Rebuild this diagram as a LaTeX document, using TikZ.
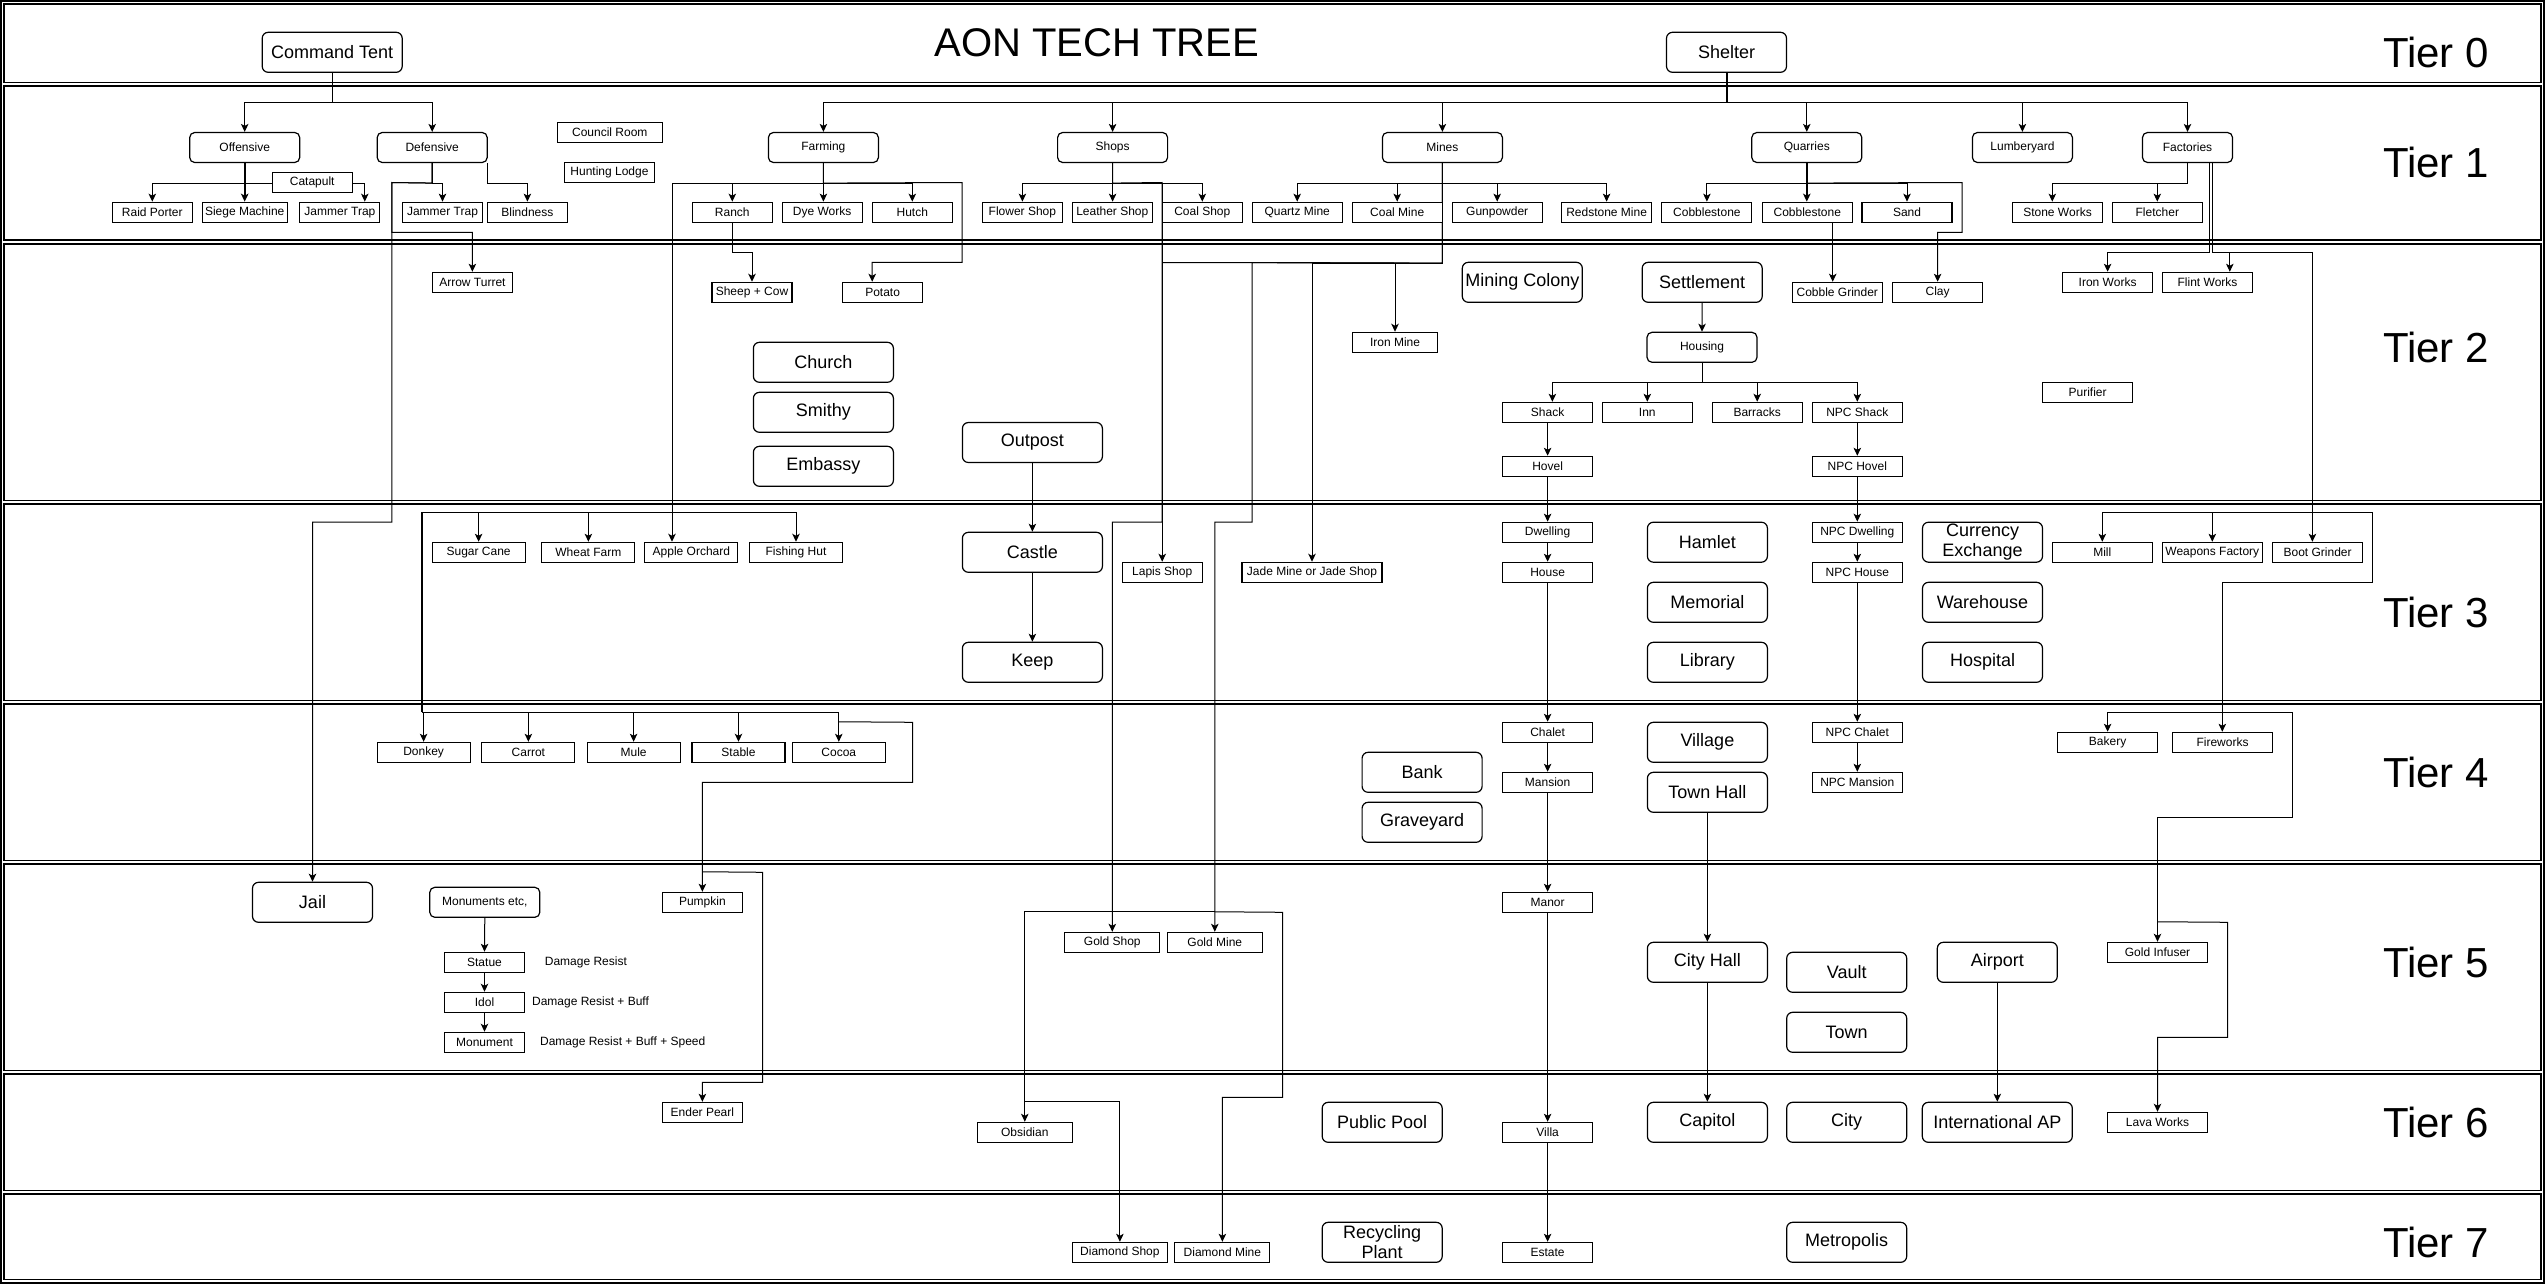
\documentclass[tikz,border=0pt]{standalone}
\usepackage{fontspec}
\setmainfont{Liberation Sans}
\usetikzlibrary{arrows.meta,calc}
\pgfdeclarelayer{edgelayer}
\pgfsetlayers{edgelayer,main}
\tikzset{
 big/.style={draw, line width=1.2pt, rounded corners=6pt, fill=white, minimum width=120pt, minimum height=40pt, inner sep=0pt, font=\fontsize{18}{20}\selectfont, align=center},
 mid/.style={draw, line width=1.2pt, rounded corners=5pt, fill=white, minimum height=30pt, inner sep=0pt, font=\fontsize{12}{14}\selectfont},
 sm/.style={draw, line width=1.1pt, fill=white, minimum height=20pt, inner sep=0pt, font=\fontsize{12}{14}\selectfont},
 note/.style={inner sep=0pt, font=\fontsize{12}{14}\selectfont},
 tierlbl/.style={inner sep=0pt, font=\fontsize{42}{46}\selectfont},
 arr/.style={line width=1pt, -{Stealth[length=8pt,width=7.5pt,inset=2pt]}},
 ln/.style={line width=1pt},
 lane/.style={line width=1.5pt},
}
\begin{document}
\begin{tikzpicture}[x=1pt,y=-1pt]
\useasboundingbox (0,0) rectangle (2546,1285);
\begin{pgfonlayer}{edgelayer}
\draw[lane] (1,1) rectangle (2544,1283);
\foreach \a/\b in {4/82.3, 86/240, 244/500.7, 504/700.7, 704/860.7, 864/1070.7, 1074/1190.7, 1194/1279.3}
  \draw[lane] (4,\a) rectangle (2541,\b);
\end{pgfonlayer}

% title and tiers
\node[inner sep=0pt, font=\fontsize{40}{44}\selectfont] (title) at (1096.6,42.3) {AON TECH TREE};
\node[tierlbl] (t0) at (2436,52.3) {Tier 0};
\node[tierlbl] (t1) at (2436,162.3) {Tier 1};
\node[tierlbl] (t2) at (2436,347) {Tier 2};
\node[tierlbl] (t3) at (2436,612) {Tier 3};
\node[tierlbl] (t4) at (2436,772) {Tier 4};
\node[tierlbl] (t5) at (2436,962) {Tier 5};
\node[tierlbl] (t6) at (2436,1122) {Tier 6};
\node[tierlbl] (t7) at (2436,1242) {Tier 7};

% big rounded
\node[big, minimum width=140pt] (cmdtent) at (332.2,52.3) {Command Tent};
\node[big] (shelter) at (1726.5,52.3) {Shelter};
\node[big] (miningcol) at (1522.3,282.3) {Mining Colony};
\node[big] (settlement) at (1702.2,282.3) {Settlement};
\node[big, minimum width=140pt] (church) at (823.4,362.3) {Church};
\node[big, minimum width=140pt] (smithy) at (823.4,412.3) {Smithy};
\node[big, minimum width=140pt] (embassy) at (823.4,466.3) {Embassy};
\node[big, minimum width=140pt] (outpost) at (1032.4,442.5) {Outpost};
\node[big, minimum width=140pt] (castle) at (1032.4,552.3) {Castle};
\node[big, minimum width=140pt] (keep) at (1032.4,662.3) {Keep};
\node[big] (hamlet) at (1707.4,542.2) {Hamlet};
\node[big] (memorial) at (1707.4,602.3) {Memorial};
\node[big] (library) at (1707.4,662.3) {Library};
\node[big] (currency) at (1982.5,542.2) {Currency\\Exchange};
\node[big] (warehouse) at (1982.5,602.3) {Warehouse};
\node[big] (hospital) at (1982.5,662.3) {Hospital};
\node[big] (bank) at (1422.1,772.3) {Bank};
\node[big] (graveyard) at (1422.1,822.3) {Graveyard};
\node[big] (village) at (1707.4,742.3) {Village};
\node[big] (townhall) at (1707.4,792.3) {Town Hall};
\node[big] (jail) at (312.5,902.3) {Jail};
\node[big] (cityhall) at (1707.4,962.3) {City Hall};
\node[big] (vault) at (1846.7,972.3) {Vault};
\node[big] (town) at (1846.7,1032.3) {Town};
\node[big] (airport) at (1997.3,962.3) {Airport};
\node[big] (publicpool) at (1382.2,1122.3) {Public Pool};
\node[big] (capitol) at (1707.4,1122.3) {Capitol};
\node[big] (city) at (1846.7,1122.3) {City};
\node[big, minimum width=150pt] (intlap) at (1997.3,1122.3) {International AP};
\node[big] (recycling) at (1382.2,1242.3) {Recycling\\Plant};
\node[big] (metropolis) at (1846.7,1242.3) {Metropolis};

% medium rounded
\node[mid, minimum width=110pt] (offensive) at (244.7,147.5) {Offensive};
\node[mid, minimum width=110pt] (defensive) at (432.2,147.5) {Defensive};
\node[mid, minimum width=110pt] (farming) at (823.4,147.5) {Farming};
\node[mid, minimum width=110pt] (shops) at (1112.6,147.5) {Shops};
\node[mid, minimum width=120pt] (mines) at (1442.4,147.5) {Mines};
\node[mid, minimum width=110pt] (quarries) at (1806.8,147.5) {Quarries};
\node[mid, minimum width=100pt] (lumberyard) at (2022.4,147.5) {Lumberyard};
\node[mid, minimum width=90pt] (factories) at (2187.5,147.5) {Factories};
\node[mid, minimum width=110pt] (housing) at (1702,347.3) {Housing};
\node[mid, minimum width=110pt] (monuments) at (484.8,902.3) {Monuments etc,};

% small rectangles
\node[sm, minimum width=105pt] (council) at (609.8,132.5) {Council Room};
\node[sm, minimum width=90pt] (hunting) at (609.5,172.5) {Hunting Lodge};
\node[sm, minimum width=80pt] (raidporter) at (152.3,212.2) {Raid Porter};
\node[sm, minimum width=85pt] (siege) at (244.7,212.2) {Siege Machine};
\node[sm, minimum width=80pt] (jammer1) at (339.9,212.2) {Jammer Trap};
\node[sm, minimum width=80pt] (jammer2) at (442.5,212.2) {Jammer Trap};
\node[sm, minimum width=80pt] (blindness) at (527.4,212.2) {Blindness};
\node[sm, minimum width=80pt] (ranch) at (732.3,212.2) {Ranch};
\node[sm, minimum width=80pt] (dyeworks) at (822.1,212.2) {Dye Works};
\node[sm, minimum width=80pt] (hutch) at (912.3,212.2) {Hutch};
\node[sm, minimum width=80pt] (flowershop) at (1022.4,212.2) {Flower Shop};
\node[sm, minimum width=80pt] (leathershop) at (1112.3,212.2) {Leather Shop};
\node[sm, minimum width=80pt] (coalshop) at (1202.3,212.2) {Coal Shop};
\node[sm, minimum width=90pt] (quartz) at (1297.2,212.2) {Quartz Mine};
\node[sm, minimum width=90pt] (coalmine) at (1397.2,212.2) {Coal Mine};
\node[sm, minimum width=90pt] (gunpowder) at (1497.2,212.2) {Gunpowder};
\node[sm, minimum width=90pt] (redstone) at (1606.6,212.2) {Redstone Mine};
\node[sm, minimum width=90pt] (cobble1) at (1706.9,212.2) {Cobblestone};
\node[sm, minimum width=90pt] (cobble2) at (1807.3,212.2) {Cobblestone};
\node[sm, minimum width=90pt] (sand) at (1907,212.2) {Sand};
\node[sm, minimum width=90pt] (stoneworks) at (2057.5,212.2) {Stone Works};
\node[sm, minimum width=90pt] (fletcher) at (2157.3,212.2) {Fletcher};
\node[sm, minimum width=80pt] (arrowturret) at (472.4,282.3) {Arrow Turret};
\node[sm, minimum width=80pt] (sheepcow) at (752,292.3) {Sheep + Cow};
\node[sm, minimum width=80pt] (potato) at (882.6,292.3) {Potato};
\node[sm, minimum width=90pt] (cobblegrinder) at (1837.3,292.3) {Cobble Grinder};
\node[sm, minimum width=90pt] (clay) at (1937.6,292.3) {Clay};
\node[sm, minimum width=90pt] (ironworks) at (2107.6,282.3) {Iron Works};
\node[sm, minimum width=90pt] (flintworks) at (2207.5,282.3) {Flint Works};
\node[sm, minimum width=85pt] (ironmine) at (1395,342.3) {Iron Mine};
\node[sm, minimum width=90pt] (shack) at (1547.6,412.3) {Shack};
\node[sm, minimum width=90pt] (inn) at (1647.3,412.3) {Inn};
\node[sm, minimum width=90pt] (barracks) at (1757.2,412.3) {Barracks};
\node[sm, minimum width=90pt] (npcshack) at (1857.3,412.3) {NPC Shack};
\node[sm, minimum width=90pt] (purifier) at (2087.6,392.3) {Purifier};
\node[sm, minimum width=90pt] (hovel) at (1547.6,466.3) {Hovel};
\node[sm, minimum width=90pt] (npchovel) at (1857.3,466.3) {NPC Hovel};
\node[sm, minimum width=93pt] (sugarcane) at (478.6,552.3) {Sugar Cane};
\node[sm, minimum width=93pt] (wheatfarm) at (588.4,552.3) {Wheat Farm};
\node[sm, minimum width=93pt] (appleorchard) at (691.4,552.3) {Apple Orchard};
\node[sm, minimum width=93pt] (fishinghut) at (796,552.3) {Fishing Hut};
\node[sm, minimum width=80pt] (lapis) at (1162.2,572.3) {Lapis Shop};
\node[sm, minimum width=140pt] (jade) at (1312,572.3) {Jade Mine or Jade Shop};
\node[sm, minimum width=90pt] (dwelling) at (1547.6,532.2) {Dwelling};
\node[sm, minimum width=90pt] (house) at (1547.6,572.3) {House};
\node[sm, minimum width=90pt] (npcdwelling) at (1857.3,532.2) {NPC Dwelling};
\node[sm, minimum width=90pt] (npchouse) at (1857.3,572.3) {NPC House};
\node[sm, minimum width=100pt] (mill) at (2102.3,552.3) {Mill};
\node[sm, minimum width=100pt] (weapons) at (2212.3,552.3) {Weapons Factory};
\node[sm, minimum width=90pt] (bootgrinder) at (2317.6,552.3) {Boot Grinder};
\node[sm, minimum width=93pt] (donkey) at (423.6,752.3) {Donkey};
\node[sm, minimum width=93pt] (carrot) at (528.4,752.3) {Carrot};
\node[sm, minimum width=93pt] (mule) at (633.6,752.3) {Mule};
\node[sm, minimum width=93pt] (stable) at (738.5,752.3) {Stable};
\node[sm, minimum width=93pt] (cocoa) at (838.8,752.3) {Cocoa};
\node[sm, minimum width=90pt] (chalet) at (1547.6,732.3) {Chalet};
\node[sm, minimum width=90pt] (mansion) at (1547.6,782.3) {Mansion};
\node[sm, minimum width=90pt] (npcchalet) at (1857.3,732.3) {NPC Chalet};
\node[sm, minimum width=90pt] (npcmansion) at (1857.3,782.3) {NPC Mansion};
\node[sm, minimum width=100pt] (bakery) at (2107.6,742.3) {Bakery};
\node[sm, minimum width=100pt] (fireworks) at (2222.5,742.3) {Fireworks};
\node[sm, minimum width=80pt] (pumpkin) at (702.4,902.3) {Pumpkin};
\node[sm, minimum width=80pt] (statue) at (484.5,962.3) {Statue};
\node[sm, minimum width=80pt] (idol) at (484.5,1002.3) {Idol};
\node[sm, minimum width=80pt] (monument) at (484.5,1042.3) {Monument};
\node[sm, minimum width=95pt] (goldshop) at (1112.3,942.3) {Gold Shop};
\node[sm, minimum width=95pt] (goldmine) at (1214.8,942.3) {Gold Mine};
\node[sm, minimum width=90pt] (manor) at (1547.6,902.3) {Manor};
\node[sm, minimum width=100pt] (goldinfuser) at (2157.5,952.3) {Gold Infuser};
\node[sm, minimum width=80pt] (enderpearl) at (702.4,1112.3) {Ender Pearl};
\node[sm, minimum width=95pt] (obsidian) at (1024.8,1132.3) {Obsidian};
\node[sm, minimum width=90pt] (villa) at (1547.6,1132.3) {Villa};
\node[sm, minimum width=100pt] (lavaworks) at (2157.5,1122.3) {Lava Works};
\node[sm, minimum width=95pt] (diamondshop) at (1119.9,1252.3) {Diamond Shop};
\node[sm, minimum width=95pt] (diamondmine) at (1222.4,1252.3) {Diamond Mine};
\node[sm, minimum width=90pt] (estate) at (1547.6,1252.3) {Estate};
\node[sm, minimum width=80pt] (catapult) at (312.2,182.5) {Catapult};

\node[note] (dr1) at (585.9,962.3) {Damage Resist};
\node[note] (dr2) at (590.5,1002.3) {Damage Resist + Buff};
\node[note] (dr3) at (622.7,1042.3) {Damage Resist + Buff + Speed};

\coordinate (bus3) at (422.2,512.3);
\coordinate (bus4) at (422.2,712.3);
\coordinate (fb) at (2312.4,512.3);
\coordinate (fw) at (2222.3,712.3);

\begin{pgfonlayer}{edgelayer}
% command tent
\draw[arr] (cmdtent.south) -- ++(0,30) -| (offensive.north);
\draw[arr] (cmdtent.south) -- ++(0,30) -| (defensive.north);
% shelter
\draw[line width=2pt] (shelter.south) -- ++(0,30);
\foreach \n in {farming,shops,mines,quarries,lumberyard,factories}
  \draw[arr] (shelter.south) -- ++(0,30) -| (\n.north);
% offensive
\draw[arr, line width=1.8pt] (offensive.south) -- (siege.north);
\draw[arr] (offensive.south) -- ++(0,20) -| (raidporter.north);
\draw[arr] (offensive.south) -- ++(0,20) -| (jammer1.north -| 364.8,0);
% defensive
\draw[arr] (defensive.south) -- ++(0,20) -| (jammer2.north);
\draw[arr] (defensive.south east) -- ++(0,20) -| (blindness.north);
\draw[arr] (defensive.south) -- ++(0,20) -- (391.9,182.5) -- (391.9,522) -| (jail.north);
\draw[arr] (defensive.south) -- ++(0,20) -- (391.9,182.5) -- (391.9,232.3) -| (arrowturret.north);
% farming
\draw[arr] (farming.south) -- (farming.south |- dyeworks.north);
\draw[arr] (farming.south) -- ++(0,20) -| (ranch.north);
\draw[arr] (farming.south) -- ++(0,20) -| (hutch.north);
\draw[arr] (farming.south) -- ++(0,20) -- (962.2,182.5) -- (962.2,262.3) -| (potato.north -| 872.2,0);
\draw[arr] (farming.south) -- ++(0,20) -| (appleorchard.north -| 672,0);
\draw[arr] (ranch.south) -- ++(0,30) -| (sheepcow.north);
% tier 3/4 farm bus
\draw[arr] (bus3) -| (sugarcane.north);
\draw[arr] (bus3) -| (wheatfarm.north);
\draw[arr] (bus3) -| (fishinghut.north);
\draw[line width=2pt] (bus3) -- (bus4);
\foreach \n in {donkey,carrot,mule,stable,cocoa}
  \draw[arr] (bus4) -| (\n.north);
\draw[arr] (cocoa.north) ++(0,-20) -- (912.5,722.3) -- (912.5,782.3) -| (pumpkin.north);
\draw[arr] (pumpkin.north) ++(0,-20) -- (762.6,872.3) -- (762.6,1082.3) -| (enderpearl.north);
% monuments
\draw[arr] (monuments.south) -- (statue.north);
\draw[arr] (statue.south) -- (idol.north);
\draw[arr] (idol.south) -- (monument.north);
% shops
\draw[arr] (shops.south) -- (shops.south |- leathershop.north);
\draw[arr] (shops.south) -- ++(0,20) -| (flowershop.north);
\draw[arr] (shops.south) -- ++(0,20) -| (coalshop.north);
\draw[arr] (shops.south) -- ++(0,20) -| (lapis.north);
\draw[arr] (shops.south) -- ++(0,20) -- (1162.2,182.5) -- (1162.2,522) -| (goldshop.north);
\draw[ln] ($(goldshop.north)+(0,-20)$) -- ($(goldmine.north)+(0,-20)$);
\draw[arr] (goldshop.north) ++(0,-20) -| (obsidian.north);
\draw[arr] (obsidian.north) ++(0,-20) -| (diamondshop.north);
% mines
\draw[arr] (mines.south) -- ++(0,20) -| (quartz.north);
\draw[arr] (mines.south) -- ++(0,20) -| (coalmine.north);
\draw[arr] (mines.south) -- ++(0,20) -| (gunpowder.north);
\draw[arr] (mines.south) -- ++(0,20) -| (redstone.north);
\draw[ln] (mines.south) -- ++(0,100) -- (1162.2,262.5);
\draw[arr] (mines.south) -- ++(0,100) -| (ironmine.north);
\draw[arr] (mines.south) -- ++(0,100) -| (jade.north);
\draw[arr] (mines.south) -- ++(0,100) -- (1252.2,262.5) -- (1252.2,522) -| (goldmine.north);
\draw[arr] (goldmine.north) ++(0,-20) -- (1282.5,912.3) -- (1282.5,1097.3) -| (diamondmine.north);
% quarries
\draw[arr, line width=1.8pt] (quarries.south) -- (quarries.south |- cobble2.north);
\draw[arr] (quarries.south) -- ++(0,20) -| (cobble1.north);
\draw[arr] (quarries.south) -- ++(0,20) -| (sand.north);
\draw[arr] (quarries.south) -- ++(0,20) -- (1962.2,182.5) -- (1962.2,232.3) -| (clay.north);
\draw[arr] (cobble2.south -| 1832.7,0) -- (cobblegrinder.north -| 1832.7,0);
% factories
\draw[arr] (factories.south) -- ++(0,20) -| (stoneworks.north -| 2052.3,0);
\draw[arr] (factories.south) -- ++(0,20) -| (fletcher.north);
\draw[arr] (factories.south -| 2209,0) -- (2209,252.3) -| (ironworks.north);
\draw[arr] (factories.south -| 2212.5,0) -- (2212.5,252.3) -| (flintworks.north -| 2229.8,0);
\draw[arr] (factories.south -| 2212.5,0) -- (2212.5,252.3) -- (2312.4,252.3) -- (bootgrinder.north -| 2312.4,0);
\draw[arr] (fb) -| (mill.north);
\draw[arr] (fb) -| (weapons.north);
\draw[arr] (fb) -- (2372.3,512.3) -- (2372.3,582.3) -- (2222.3,582.3) -- (fireworks.north -| 2222.3,0);
\draw[arr] (fw) -| (bakery.north);
\draw[arr] (fw) -- (2292.4,712.3) -- (2292.4,817.3) -| (goldinfuser.north);
\draw[arr] (goldinfuser.north) ++(0,-20) -- (2227.7,922.3) -- (2227.7,1037.3) -| (lavaworks.north);
% housing
\draw[arr] (settlement.south) -- (housing.north);
\draw[arr] (housing.south) -- ++(0,20) -| (shack.north -| 1552.4,0);
\draw[arr] (housing.south) -- ++(0,20) -| (inn.north);
\draw[arr] (housing.south) -- ++(0,20) -| (barracks.north);
\draw[arr] (housing.south) -- ++(0,20) -| (npcshack.north);
\foreach \a/\b in {shack/hovel, hovel/dwelling, dwelling/house, house/chalet, chalet/mansion, mansion/manor, manor/villa, villa/estate, npcshack/npchovel, npchovel/npcdwelling, npcdwelling/npchouse, npchouse/npcchalet, npcchalet/npcmansion, outpost/castle, castle/keep, townhall/cityhall, cityhall/capitol, airport/intlap}
  \draw[arr] (\a.south) -- (\b.north);
\end{pgfonlayer}
\end{tikzpicture}
\end{document}
